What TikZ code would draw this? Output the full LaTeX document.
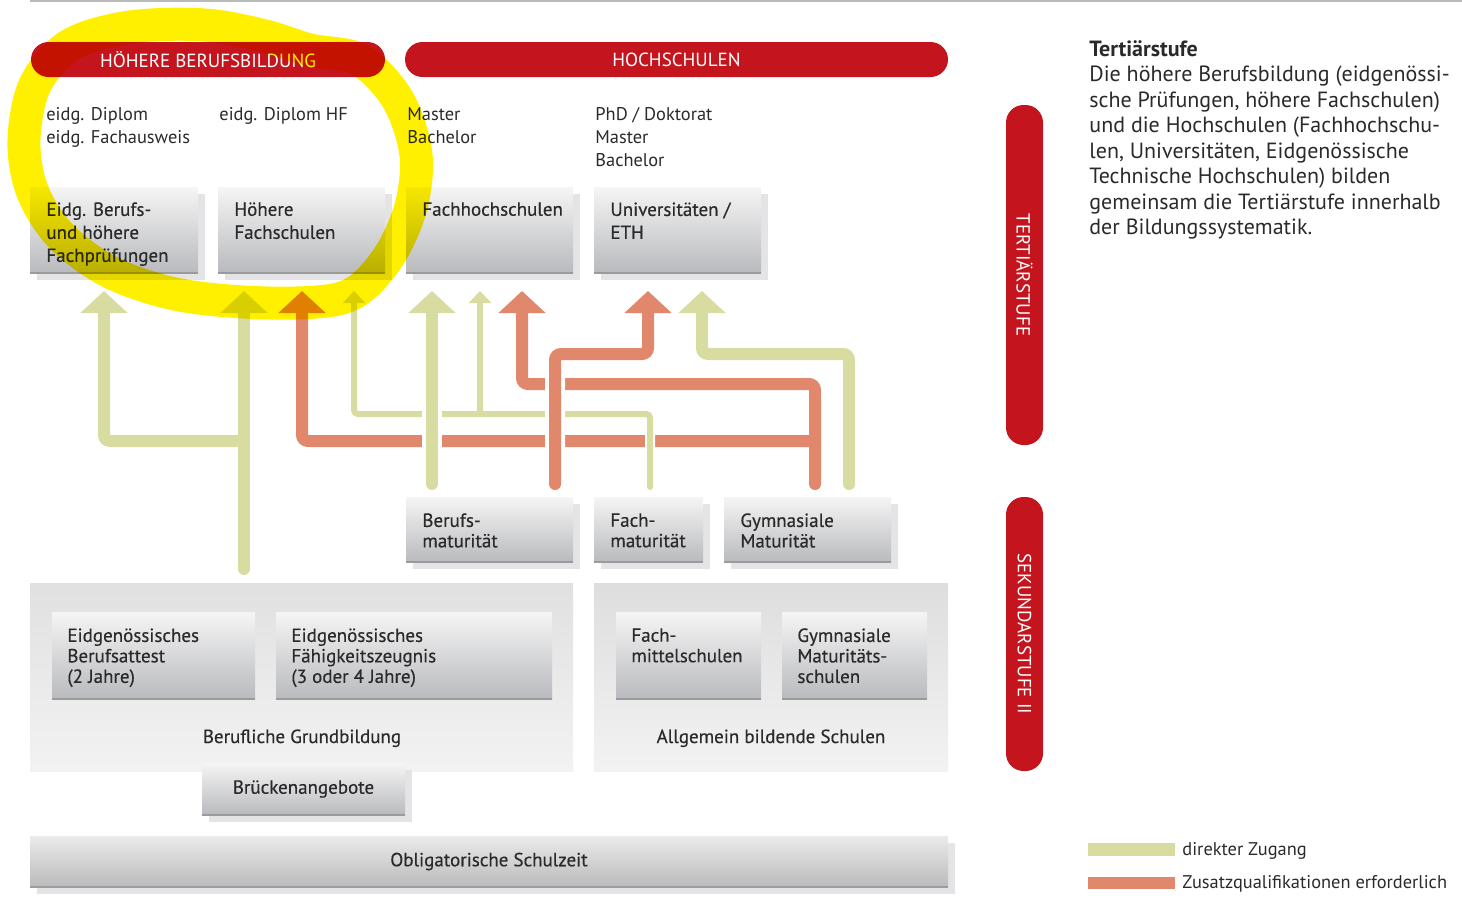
\documentclass[tikz,border=0pt]{standalone}
\usepackage{fontspec}
\setmainfont{PT Sans}
\newfontface\medfont{PT Sans}[FakeBold=0.4]
\usetikzlibrary{arrows.meta,calc,shadows}

\definecolor{swred}{HTML}{C4141D}
\definecolor{direkt}{HTML}{D9DCA0}
\definecolor{zusatz}{HTML}{E0876C}
\definecolor{boxtop}{HTML}{F5F5F5}
\definecolor{boxbot}{HTML}{B9BABD}
\definecolor{boxedge}{HTML}{9A9B9D}
\definecolor{shadowgrey}{HTML}{E4E4E6}
\definecolor{txtgrey}{HTML}{2A2A2A}
\definecolor{hlyellow}{HTML}{FFF000}

\tikzset{
  box/.style={rectangle, inner sep=0pt, outer sep=0pt, anchor=north west,
    top color=boxtop, bottom color=boxbot,
    append after command={(\tikzlastnode.south west) edge[draw=boxedge, line width=0.8pt] (\tikzlastnode.south east)}},
  shadowbox/.style={box, general shadow={fill=shadowgrey, shadow xshift=3.5pt, shadow yshift=-3.5pt}},
  panel/.style={rectangle, inner sep=0pt, outer sep=0pt, anchor=north west},
  boxtext/.style={anchor=north west, inner sep=0pt, align=left, text=txtgrey, font=\medfont\fontsize{9.5}{11.5}\selectfont},
  smalltext/.style={boxtext, font=\medfont\fontsize{9.5}{10.25}\selectfont},
  label/.style={anchor=north west, inner sep=0pt, align=left, text=txtgrey, font=\fontsize{9.2}{11.5}\selectfont},
  redbar/.style={rectangle, rounded corners=8.75pt, fill=swred, text=white, inner sep=0pt, font=\fontsize{9.5}{11}\selectfont}
}

\begin{document}
\begin{tikzpicture}[x=0.5pt, y=-0.5pt,
  direktline/.style={draw=direkt, line width=6pt, line cap=round, rounded corners=3pt, -{Triangle[width=23pt,length=11pt]}},
  direktthin/.style={draw=direkt, line width=3pt, line cap=round, rounded corners=2pt, -{Triangle[width=11pt,length=6pt]}},
  zusatzline/.style={draw=zusatz, line width=6pt, line cap=round, rounded corners=3pt, -{Triangle[width=23pt,length=11pt]}},
  over/.style={preaction={draw=white, line width=#1}},
  hl/.style={draw=hlyellow, line width=16.5pt, line join=round, blend mode=multiply}]
\useasboundingbox (0,0) rectangle (1462,900);
\draw[gray!55, line width=0.7pt] (30,1) -- (1462,1);

% bars
\node[redbar, minimum width=177pt, minimum height=17.5pt] (hbb) at (208,59.5) {HÖHERE BERUFSBILDUNG};
\node[redbar, minimum width=271.5pt, minimum height=17.5pt] (hoch) at (676.5,59.5) {HOCHSCHULEN};
\node[redbar, rotate=-90, minimum width=170pt, minimum height=18.5pt] (tert) at (1024.5,275) {TERTIÄRSTUFE};
\node[redbar, rotate=-90, minimum width=137pt, minimum height=18.5pt] (sek) at (1024.5,634) {SEKUNDARSTUFE II};

% degrees
\node[label] (dipl) at (46,107) {eidg. Diplom\\eidg. Fachausweis};
\node[label] (diplhf) at (219,107) {eidg. Diplom HF};
\node[label] (fhdeg) at (407,107) {Master\\Bachelor};
\node[label] (unideg) at (595,107) {PhD / Doktorat\\Master\\Bachelor};

% tertiary
\node[shadowbox, minimum width=84pt, minimum height=43pt] (ebf) at (30,187) {};
\node[shadowbox, minimum width=83.5pt, minimum height=43pt] (hfs) at (218,187) {};
\node[shadowbox, minimum width=83.5pt, minimum height=43pt] (fhs) at (406,187) {};
\node[shadowbox, minimum width=83.5pt, minimum height=43pt] (uni) at (594,187) {};
\node[boxtext] at ($(ebf.north west)+(16,15)$) {Eidg. Berufs-\\und höhere\\Fachprüfungen};
\node[boxtext] at ($(hfs.north west)+(16,15)$) {Höhere\\Fachschulen};
\node[boxtext] at ($(fhs.north west)+(16,15)$) {Fachhochschulen};
\node[boxtext] at ($(uni.north west)+(16,15)$) {Universitäten /\\ETH};

% maturity
\node[shadowbox, minimum width=83.5pt, minimum height=32.5pt] (bm) at (406,497) {};
\node[shadowbox, minimum width=54.5pt, minimum height=32.5pt] (fm) at (594,497) {};
\node[shadowbox, minimum width=83.5pt, minimum height=32.5pt] (gm) at (724,497) {};
\node[smalltext] at ($(bm.north west)+(16,16)$) {Berufs-\\maturität};
\node[smalltext] at ($(fm.north west)+(16,16)$) {Fach-\\maturität};
\node[smalltext] at ($(gm.north west)+(16,16)$) {Gymnasiale\\Maturität};

% secondary II
\node[panel, top color=black!12!white, bottom color=black!5!white, minimum width=271.5pt, minimum height=94pt] (pan1) at (30,583) {};
\node[panel, top color=blue!3!black!13!white, bottom color=blue!2!black!5!white, minimum width=177pt, minimum height=94pt] (pan2) at (594,583) {};
\node[box, minimum width=101.5pt, minimum height=43.5pt] (eba) at (52,612) {};
\node[box, minimum width=138pt, minimum height=43.5pt] (efz) at (276,612) {};
\node[box, minimum width=72.5pt, minimum height=43.5pt] (fms) at (616,612) {};
\node[box, minimum width=72.5pt, minimum height=43.5pt] (gms) at (782,612) {};
\node[smalltext] at ($(eba.north west)+(15,16)$) {Eidgenössisches\\Berufsattest\\(2 Jahre)};
\node[smalltext] at ($(efz.north west)+(15,16)$) {Eidgenössisches\\Fähigkeitszeugnis\\(3 oder 4 Jahre)};
\node[smalltext] at ($(fms.north west)+(15,16)$) {Fach-\\mittelschulen};
\node[smalltext] at ($(gms.north west)+(15,16)$) {Gymnasiale\\Maturitäts-\\schulen};
\node[smalltext, anchor=base] at (302,743) {Berufliche Grundbildung};
\node[smalltext, anchor=base] at (771,743) {Allgemein bildende Schulen};

\node[shadowbox, minimum width=101.5pt, minimum height=26pt] (brk) at (202,763) {};
\node[smalltext, anchor=center] at (brk.center) {Brückenangebote};
\node[shadowbox, top color=black!8!white, bottom color=black!27!white, minimum width=459pt, minimum height=25.5pt] (obl) at (30,836) {};
\node[smalltext, anchor=center] at (obl.center) {Obligatorische Schulzeit};

% arrow ends
\coordinate (pan1-g) at ($(pan1.north west)+(214,-14)$);
\coordinate (ebf-g) at ($(ebf.south west)+(74,18)$);
\coordinate (hfs-g) at ($(hfs.south west)+(26,18)$);
\coordinate (hfs-o) at ($(hfs.south west)+(84,18)$);
\coordinate (hfs-t) at ($(hfs.south west)+(136,18)$);
\coordinate (fhs-g) at ($(fhs.south west)+(26,18)$);
\coordinate (fhs-t) at ($(fhs.south west)+(74,18)$);
\coordinate (fhs-o) at ($(fhs.south west)+(116,18)$);
\coordinate (uni-o) at ($(uni.south west)+(54,18)$);
\coordinate (uni-g) at ($(uni.south west)+(108,18)$);
\coordinate (bm-g) at ($(bm.north west)+(26,-13)$);
\coordinate (bm-o) at ($(bm.north west)+(149,-13)$);
\coordinate (fm-g) at ($(fm.north west)+(56,-10)$);
\coordinate (gm-o) at ($(gm.north west)+(91,-13)$);
\coordinate (gm-g) at ($(gm.north west)+(125,-13)$);
\coordinate (lvA) at (0,354);
\coordinate (lvB) at (0,384);
\coordinate (lvC) at (0,414);
\coordinate (lvD) at (0,441);

% arrows
\draw[direktline] (pan1-g) -- (hfs-g);
\draw[direktline] (pan1-g |- lvD) -| (ebf-g);
\draw[zusatzline] (gm-o |- lvD) -| (hfs-o);
\draw[zusatzline] (gm-o) -- (gm-o |- lvB) -| (fhs-o);
\draw[direktthin, over=5pt] (fm-g) -- (fm-g |- lvC) -| (hfs-t);
\draw[direktthin] (fhs-t |- lvC) -- (fhs-t);
\draw[direktline, over=10pt] (bm-g) -- (fhs-g);
\draw[zusatzline, over=10pt] (bm-o) -- (bm-o |- lvA) -| (uni-o);
\draw[direktline] (gm-g) -- (gm-g |- lvA) -| (uni-g);

% text right
\node[anchor=north west, inner sep=0pt, align=left, text=txtgrey, font=\fontsize{11}{12.75}\selectfont] (desc) at (1089,40)
  {\textbf{Tertiärstufe}\\Die höhere Berufsbildung (eidgenössi-\\sche Prüfungen, höhere Fachschulen)\\und die Hochschulen (Fachhochschu-\\len, Universitäten, Eidgenössische\\Technische Hochschulen) bilden\\gemeinsam die Tertiärstufe innerhalb\\der Bildungssystematik.};

% legend
\fill[direkt] (1088,843) rectangle (1175,856);
\fill[zusatz] (1088,877) rectangle (1175,889);
\node[label, anchor=base west] (lg1) at (1182,855) {direkter Zugang};
\node[label, anchor=base west] (lg2) at (1182,888) {Zusatzqualifikationen erforderlich};

% highlight
\draw[hl] plot[smooth cycle, tension=0.55] coordinates {(205,25) (265,36) (310,50) (360,60) (398,100) (416,155) (410,210) (385,262) (345,297) (270,303) (180,295) (110,272) (60,235) (32,190) (24,140) (35,85) (70,45) (130,27)};
\end{tikzpicture}
\end{document}
